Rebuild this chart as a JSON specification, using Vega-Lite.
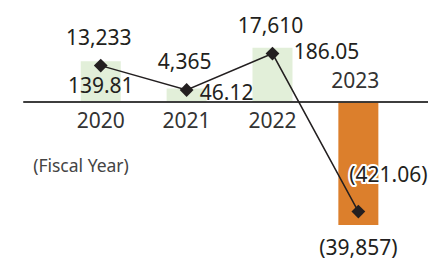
{
  "$schema": "https://vega.github.io/schema/vega-lite/v6.json",
  "autosize": {"type": "fit", "contains": "padding"},
  "padding": 0,
  "width": 433,
  "height": 260,
  "background": "white",
  "config": {"view": {"stroke": null}, "text": {"font": "Noto Sans", "fontSize": 21, "color": "#231f20"}},
  "data": {"values": [
    {"year": 2020, "fy": "2020", "eps": 139.81, "epsLabel": "139.81", "income": 13233, "incLabel": "13,233"},
    {"year": 2021, "fy": "2021", "eps": 46.12, "epsLabel": "46.12", "income": 4365, "incLabel": "4,365"},
    {"year": 2022, "fy": "2022", "eps": 186.05, "epsLabel": "186.05", "income": 17610, "incLabel": "17,610"},
    {"year": 2023, "fy": "2023", "eps": -421.06, "epsLabel": "(421.06)", "income": -39857, "incLabel": "(39,857)"}
  ]},
  "encoding": {
    "x": {"field": "year", "type": "quantitative", "scale": {"domain": [2018.885, 2023.811], "nice": false, "zero": false}, "axis": null}
  },
  "layer": [
    {
      "encoding": {
        "y": {"field": "eps", "type": "quantitative", "scale": {"domain": [-541.1, 349.3], "nice": false, "zero": false}, "axis": null}
      },
      "layer": [
        {
          "mark": {"type": "bar", "size": 40},
          "encoding": {
            "color": {"condition": {"test": "datum.eps < 0", "value": "#dc7f2c"}, "value": "#e2efd9"}
          }
        },
        {
          "mark": {"type": "rule", "color": "#333333", "strokeWidth": 1.2},
          "encoding": {
            "x": {"datum": 2019.1},
            "x2": {"datum": 2023.811},
            "y": {"datum": 0}
          }
        },
        {
          "transform": [{"filter": "datum.year == 2020"}],
          "mark": {"type": "text", "dy": 26, "baseline": "middle", "align": "center"},
          "encoding": {"text": {"field": "epsLabel"}}
        },
        {
          "transform": [{"filter": "datum.year == 2021"}],
          "mark": {"type": "text", "dx": 40, "dy": 5, "baseline": "middle", "align": "center"},
          "encoding": {"text": {"field": "epsLabel"}}
        },
        {
          "transform": [{"filter": "datum.year == 2022"}],
          "mark": {"type": "text", "dx": 54, "dy": 5, "baseline": "middle", "align": "center"},
          "encoding": {"text": {"field": "epsLabel"}}
        },
        {
          "transform": [{"filter": "datum.year == 2023"}],
          "mark": {"type": "text", "dx": 30, "dy": -49, "baseline": "middle", "align": "center", "stroke": "white", "strokeWidth": 4, "strokeJoin": "round", "color": "white"},
          "encoding": {"text": {"field": "epsLabel"}}
        },
        {
          "transform": [{"filter": "datum.year == 2023"}],
          "mark": {"type": "text", "dx": 30, "dy": -49, "baseline": "middle", "align": "center"},
          "encoding": {"text": {"field": "epsLabel"}}
        },
        {
          "transform": [{"filter": "datum.year < 2023"}],
          "mark": {"type": "text", "dy": 20, "baseline": "middle", "align": "center", "color": "#333333"},
          "encoding": {"y": {"datum": 0}, "text": {"field": "fy"}}
        },
        {
          "transform": [{"filter": "datum.year == 2023"}],
          "mark": {"type": "text", "dx": -3, "dy": -20, "baseline": "middle", "align": "center", "color": "#333333"},
          "encoding": {"y": {"datum": 0}, "text": {"field": "fy"}}
        },
        {
          "transform": [{"filter": "datum.year == 2020"}],
          "mark": {"type": "text", "baseline": "middle", "align": "center", "fontSize": 17.5, "color": "#444444"},
          "encoding": {"x": {"datum": 2019.77}, "y": {"datum": -222}, "text": {"value": "(Fiscal Year)"}}
        }
      ]
    },
    {
      "encoding": {
        "y": {"field": "income", "type": "quantitative", "scale": {"domain": [-57455, 37091], "nice": false, "zero": false}, "axis": null}
      },
      "layer": [
        {"mark": {"type": "line", "color": "#231f20", "strokeWidth": 1.5}},
        {"mark": {"type": "point", "shape": "diamond", "filled": true, "size": 190, "color": "#231f20", "opacity": 1}},
        {
          "transform": [{"filter": "datum.income >= 0"}],
          "mark": {"type": "text", "dx": -2, "dy": -27, "baseline": "middle", "align": "center"},
          "encoding": {"text": {"field": "incLabel"}}
        },
        {
          "transform": [{"filter": "datum.income < 0"}],
          "mark": {"type": "text", "dy": 37, "baseline": "middle", "align": "center"},
          "encoding": {"text": {"field": "incLabel"}}
        }
      ]
    }
  ],
  "resolve": {"scale": {"y": "independent"}}
}
